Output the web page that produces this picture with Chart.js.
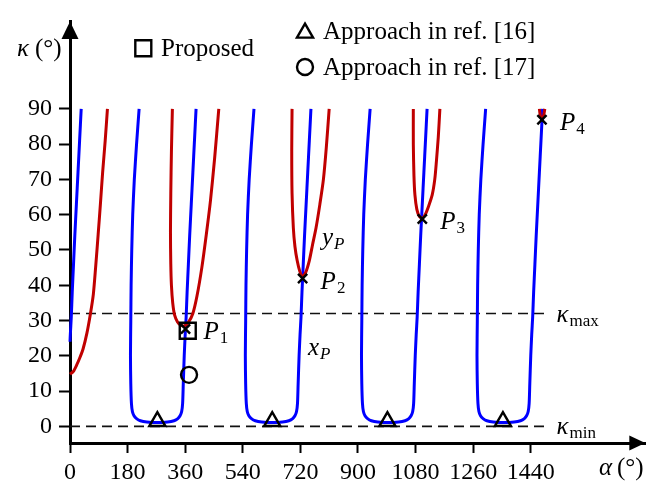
<!DOCTYPE html>
<html>
<head>
<meta charset="utf-8">
<script src="https://cdn.jsdelivr.net/npm/chart.js@4/dist/chart.umd.min.js"></script>
<style>
  body { margin: 0; background: #fff; }
</style>
</head>
<body>
<canvas id="chart" width="659" height="484"></canvas>
<script>
// tick labels
const xTicks = [0, 180, 360, 540, 720, 900, 1080, 1260, 1440];
const yTicks = [0, 10, 20, 30, 40, 50, 60, 70, 80, 90];

// limits
const kappaMax = 32;
const kappaMin = 0;
const limitEnd = 1486;

// x_P curves (alpha, kappa)
const xP0 = [[0,24],[1,26],[4,31],[7,38],[11,46],[15,54],[20,63],[25,72],[30,81],[35,90]];
const xP1 = [[216,90],[208,80],[201,70],[196,60],[193,50],[191,40],[190,30],[189,20],[190,12],[192,6.5],[195,4.2],[200,3],[208,2.2],[220,1.6],[240,1.25],[273,1.1],[305,1.25],[325,1.6],[337,2.2],[344,3],[349,4.2],[352,6.5],[354,12],[357,20],[360,26],[363,31],[366,38],[370,46],[374,54],[379,63],[384,72],[389,81],[394,90]];
const xP2 = [[575,90],[567,80],[560,70],[555,60],[552,50],[550,40],[549,30],[548,20],[549,12],[551,6.5],[554,4.2],[559,3],[567,2.2],[579,1.6],[599,1.25],[632,1.1],[664,1.25],[684,1.6],[696,2.2],[703,3],[708,4.2],[711,6.5],[713,12],[716,20],[719,26],[722,31],[725,38],[729,46],[733,54],[738,63],[743,72],[748,81],[753,90]];
const xP3 = [[938,90],[930,80],[923,70],[918,60],[915,50],[913,40],[912,30],[911,20],[912,12],[914,6.5],[917,4.2],[922,3],[930,2.2],[942,1.6],[962,1.25],[995,1.1],[1027,1.25],[1047,1.6],[1059,2.2],[1066,3],[1071,4.2],[1074,6.5],[1076,12],[1079,20],[1082,26],[1085,31],[1088,38],[1092,46],[1096,54],[1101,63],[1106,72],[1111,81],[1116,90]];
const xP4 = [[1299,90],[1291,80],[1284,70],[1279,60],[1276,50],[1274,40],[1273,30],[1272,20],[1273,12],[1275,6.5],[1278,4.2],[1283,3],[1291,2.2],[1303,1.6],[1323,1.25],[1356,1.1],[1388,1.25],[1408,1.6],[1420,2.2],[1427,3],[1432,4.2],[1435,6.5],[1437,12],[1440,20],[1443,26],[1446,31],[1449,38],[1453,46],[1457,54],[1462,63],[1467,72],[1472,81],[1477,90]];

// y_P curves
const yP1 = [[0,14.8],[10,15.5],[21,17.4],[31,19.5],[41,22],[53,26.5],[64,32],[73,37.5],[80,45],[88,54.4],[95,63],[102,72],[110,81],[117,90]];
const yP2 = [[320,90],[317,78],[315,66],[314,55],[315,46],[317,40],[321,35],[327,31.5],[336,29.6],[346,28.7],[358,28.5],[370,29.5],[384,32],[397,37],[412,45],[426,54.4],[439,64],[452,76],[465,90]];
const yP3 = [[694,90],[693,78],[694,66],[698,56.3],[703,51],[710,47],[718,44],[726,42.5],[736,43.5],[748,47],[758,51.5],[769,56.3],[781,63],[792,70],[801,79],[810,90]];
const yP4 = [[1073,90],[1073,80],[1075,71],[1078,65.6],[1084,61.5],[1092,59.5],[1101,59],[1110,60],[1121,62.5],[1132,65.6],[1140,70],[1145,75],[1151,82],[1156,90]];
const yP5 = [[1467,90],[1470,88],[1475,87.2],[1480,88],[1484,90]];

// marked points
const pPoints = [[361,27.6],[727,41.9],[1101,58.8],[1475,86.9]];
const pNames = ['1', '2', '3', '4'];
const proposed = [[368,27.1]];
const ref16 = [[273,1.4],[632,1.4],[992,1.4],[1353,1.4]];
const ref17 = [[372,14.6]];

const BLUE = '#0000ff';
const RED = '#c00000';
const SERIF = '"Liberation Serif", "Times New Roman", serif';

const pts = arr => arr.map(([x, y]) => ({x, y}));

function curve(arr, color) {
  return { data: pts(arr), showLine: true, borderColor: color, borderWidth: 3,
           pointRadius: 0, tension: 0.25, fill: false, order: 5 };
}
function marker(arr, style, r) {
  return { data: pts(arr), showLine: false, pointStyle: style, pointRadius: r,
           pointBorderColor: '#000', pointBackgroundColor: 'transparent',
           pointBorderWidth: 2.4, order: 1 };
}
function dashed(k) {
  return { data: [{x: 0, y: k}, {x: limitEnd, y: k}], showLine: true, borderColor: '#111',
           borderWidth: 1.6, borderDash: [10, 6], pointRadius: 0, order: 6 };
}

function subText(ctx, main, sub, x, base, mainItalic, subItalic) {
  ctx.font = (mainItalic ? 'italic ' : '') + '25px ' + SERIF;
  ctx.fillText(main, x, base);
  const w = ctx.measureText(main).width;
  ctx.font = (subItalic ? 'italic ' : '') + '17px ' + SERIF;
  ctx.fillText(sub, x + w + 1, base + 4);
}

const overlay = {
  id: 'overlay',
  afterDraw(chart) {
    const ctx = chart.ctx;
    const xs = chart.scales.x, ys = chart.scales.y;
    const area = chart.chartArea;
    ctx.save();
    ctx.fillStyle = '#000';
    // axis arrows
    ctx.beginPath();
    ctx.moveTo(area.left, area.top);
    ctx.lineTo(area.left - 8.5, area.top + 17.5);
    ctx.lineTo(area.left + 8.5, area.top + 17.5);
    ctx.closePath(); ctx.fill();
    ctx.beginPath();
    ctx.moveTo(area.right, area.bottom);
    ctx.lineTo(area.right - 16, area.bottom - 7.5);
    ctx.lineTo(area.right - 16, area.bottom + 7.5);
    ctx.closePath(); ctx.fill();

    ctx.textBaseline = 'alphabetic';
    ctx.textAlign = 'left';
    // axis titles
    ctx.font = 'italic 25px ' + SERIF;
    ctx.fillText('\u03ba', 17, 56);
    ctx.font = '25px ' + SERIF;
    ctx.fillText('(\u00b0)', 35, 56);
    ctx.font = 'italic 25px ' + SERIF;
    ctx.fillText('\u03b1', 599, 475);
    ctx.font = '25px ' + SERIF;
    ctx.fillText('(\u00b0)', 617, 475);

    // legend
    ctx.strokeStyle = '#000';
    ctx.fillStyle = 'rgba(0,0,0,0)';
    ctx.lineWidth = 2.4;
    Chart.helpers.drawPoint(ctx, {pointStyle: 'rect', radius: 11.3, rotation: 0, borderWidth: 2.4}, 143.3, 48.3);
    Chart.helpers.drawPoint(ctx, {pointStyle: 'triangle', radius: 9.3, rotation: 0, borderWidth: 2.4}, 305, 33);
    Chart.helpers.drawPoint(ctx, {pointStyle: 'circle', radius: 8, rotation: 0, borderWidth: 2.4}, 305, 67);
    ctx.fillStyle = '#000';
    ctx.font = '25px ' + SERIF;
    ctx.fillText('Proposed', 161, 56);
    ctx.fillText('Approach in ref. [16]', 323, 39);
    ctx.fillText('Approach in ref. [17]', 323, 75);

    // point labels
    pPoints.forEach(([a, k], i) => {
      const px = xs.getPixelForValue(a), py = ys.getPixelForValue(k);
      subText(ctx, 'P', pNames[i], px + 18, py + 10, true, false);
    });
    subText(ctx, 'y', 'P', 322, 245, true, true);
    subText(ctx, 'x', 'P', 308, 355, true, true);

    // limit labels
    const lx = xs.getPixelForValue(limitEnd) + 11;
    subText(ctx, '\u03ba', 'max', lx, ys.getPixelForValue(kappaMax) + 9, true, false);
    subText(ctx, '\u03ba', 'min', lx, ys.getPixelForValue(kappaMin) + 8, true, false);
    ctx.restore();
  }
};

new Chart(document.getElementById('chart'), {
  type: 'scatter',
  data: {
    datasets: [
      marker(pPoints, 'crossRot', 6.5),
      marker(proposed, 'rect', 11.3),
      marker(ref17, 'circle', 8),
      marker(ref16, 'triangle', 9.3),
      curve(yP1, RED), curve(yP2, RED), curve(yP3, RED), curve(yP4, RED), curve(yP5, RED),
      curve(xP0, BLUE), curve(xP1, BLUE), curve(xP2, BLUE), curve(xP3, BLUE), curve(xP4, BLUE),
      dashed(kappaMax), dashed(kappaMin)
    ]
  },
  options: {
    responsive: false,
    animation: false,
    clip: false,
    layout: { padding: { top: 12.7, right: 12, left: 0, bottom: 0 } },
    plugins: { legend: { display: false }, tooltip: { enabled: false } },
    scales: {
      x: {
        type: 'linear', min: 0, max: 1798,
        afterBuildTicks: s => { s.ticks = xTicks.map(v => ({value: v})); },
        afterFit: s => { s.height = 41; },
        grid: { drawOnChartArea: false, drawTicks: true, tickLength: 10, tickWidth: 2, tickColor: '#000' },
        border: { display: true, color: '#000', width: 3 },
        ticks: { color: '#000', font: { family: SERIF, size: 24 }, padding: 5, maxRotation: 0, autoSkip: false,
                 callback: v => String(v) }
      },
      y: {
        type: 'linear', min: -4.72, max: 114.8,
        afterBuildTicks: s => { s.ticks = yTicks.map(v => ({value: v})); },
        afterFit: s => { s.width = 70; },
        grid: { drawOnChartArea: false, drawTicks: true, tickLength: 11, tickWidth: 2, tickColor: '#000' },
        border: { display: true, color: '#000', width: 3 },
        ticks: { color: '#000', font: { family: SERIF, size: 24 }, padding: 7, autoSkip: false,
                 callback: v => String(v) }
      }
    }
  },
  plugins: [overlay]
});
</script>
</body>
</html>
